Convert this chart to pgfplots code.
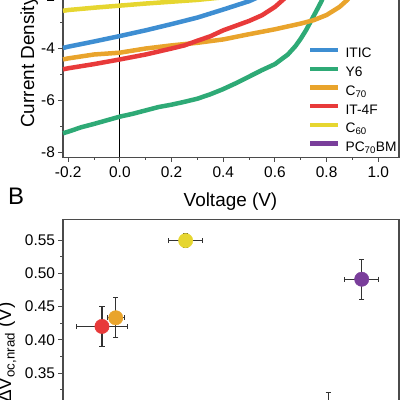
\documentclass[border=0pt]{standalone}
\usepackage{fontspec}
\setmainfont{Liberation Sans}
\usepackage{pgfplots}
\pgfplotsset{compat=1.18}
\definecolor{cITIC}{RGB}{62,142,210}
\definecolor{cY6}{RGB}{46,170,118}
\definecolor{cC70}{RGB}{233,164,44}
\definecolor{cIT}{RGB}{232,58,58}
\definecolor{cC60}{RGB}{230,214,48}
\definecolor{cPC}{RGB}{122,62,155}
\definecolor{axgray}{RGB}{75,75,75}
\definecolor{ebar}{RGB}{50,50,50}
\newcommand{\tickfont}{\fontsize{15.5}{18}\selectfont}
\newcommand{\labfont}{\fontsize{19}{22}\selectfont}
\pgfplotsset{
  myaxis/.style={
    scale only axis,
    axis line style={axgray, line width=1.1bp},
    tick style={axgray, line width=0.9bp},
    tick align=outside,
    major tick length=4.5bp,
    minor tick length=2.5bp,
    tick label style={font=\tickfont},
  },
  curve/.style={line width=4.5bp, line join=round},
  eb/.style={only marks, mark=*, mark size=7.2bp,
    error bars/x dir=both, error bars/x explicit,
    error bars/y dir=both, error bars/y explicit,
    error bars/error bar style={ebar, line width=1.1bp},
    error bars/error mark options={ebar, line width=1.1bp, mark size=2.6bp, rotate=90}},
}
\begin{document}
\begin{tikzpicture}
\path[use as bounding box] (0bp,0bp) rectangle (400bp,400bp);
\clip (0bp,0bp) rectangle (400bp,400bp);
% ---------- Panel A ----------
\begin{axis}[myaxis,
  at={(63bp,242.8bp)}, anchor=south west,
  width=336bp, height=213.2bp,
  xmin=-0.22, xmax=1.08, ymin=-8.2, ymax=0,
  xtick={-0.2,0,0.2,0.4,0.6,0.8,1.0},
  xticklabels={-0.2,0.0,0.2,0.4,0.6,0.8,1.0},
  xticklabel style={yshift=-2bp},
  ytick={-8,-6,-4,-2},
  yticklabels={-8,-6,-4,-2},
  minor x tick num=1, minor y tick num=1,
  xtick pos=bottom, ytick pos=left,
  clip=false,
  legend style={draw=none, fill=none, inner sep=0pt,
    at={(0.729,0.514)}, anchor=north west,
    font=\fontsize{13.8}{16}\selectfont,
    nodes={inner sep=0pt, text height=9.9bp, text depth=4bp},
    row sep=4.6bp, column sep=5bp},
  legend cell align=left,
  legend image code/.code={\draw[#1, line width=4.5bp] (0bp,4.9bp) -- (28bp,4.9bp);},
]
\draw[black, line width=0.8bp] (axis cs:0,-8.2) -- (axis cs:0,0);
\addplot[curve, cITIC] coordinates {
(-0.22,-4.00) (-0.2,-3.95) (-0.1,-3.75) (0.0,-3.54) (0.1,-3.32) (0.2,-3.08)
(0.3,-2.83) (0.4,-2.52) (0.45,-2.36) (0.5,-2.20) (0.55,-1.98) (0.6,-1.70)};
\addlegendentry{ITIC}
\addplot[curve, cY6] coordinates {
(-0.22,-7.28) (-0.2,-7.22) (-0.15,-7.05) (-0.1,-6.92) (-0.05,-6.78) (0.0,-6.64)
(0.05,-6.53) (0.1,-6.40) (0.15,-6.27) (0.2,-6.18) (0.25,-6.07) (0.3,-5.95)
(0.35,-5.78) (0.4,-5.58) (0.45,-5.35) (0.5,-5.10) (0.55,-4.85) (0.6,-4.62)
(0.65,-4.25) (0.68,-3.92) (0.70,-3.64) (0.72,-3.32) (0.74,-2.95) (0.76,-2.58)
(0.78,-2.20) (0.80,-1.70) (0.82,-1.10)};
\addlegendentry{Y6}
\addplot[curve, cC70] coordinates {
(-0.22,-4.44) (-0.2,-4.40) (-0.1,-4.25) (0.0,-4.18) (0.1,-4.02) (0.2,-3.90)
(0.3,-3.80) (0.4,-3.67) (0.5,-3.47) (0.6,-3.28) (0.7,-3.06) (0.75,-2.93)
(0.8,-2.73) (0.85,-2.42) (0.88,-2.15) (0.9,-1.90)};
\addlegendentry{C\textsubscript{70}}
\addplot[curve, cIT] coordinates {
(-0.22,-4.82) (-0.2,-4.78) (-0.1,-4.62) (0.0,-4.44) (0.1,-4.25) (0.2,-4.02)
(0.25,-3.90) (0.3,-3.72) (0.35,-3.55) (0.4,-3.32) (0.45,-3.14) (0.5,-2.96)
(0.55,-2.74) (0.6,-2.42) (0.65,-1.98) (0.7,-1.40)};
\addlegendentry{IT-4F}
\addplot[curve, cC60] coordinates {
(-0.22,-2.57) (-0.2,-2.54) (-0.1,-2.45) (0.0,-2.37) (0.1,-2.29) (0.2,-2.22)
(0.3,-2.15) (0.4,-2.05) (0.5,-1.90)};
\addlegendentry{C\textsubscript{60}}
\addlegendimage{curve, cPC}
\addlegendentry{PC\textsubscript{70}BM}
\end{axis}
% ---------- Panel B ----------
\begin{axis}[myaxis,
  at={(63bp,-39.5bp)}, anchor=south west,
  width=336bp, height=220bp,
  xmin=0, xmax=1, ymin=0.25, ymax=0.5808,
  xtick=\empty,
  ytick={0.30,0.35,0.40,0.45,0.50,0.55},
  yticklabels={0.30,0.35,0.40,0.45,0.50,0.55},
  minor y tick num=1,
  ytick pos=left,
  clip=false,
]
\addplot[eb, cITIC, mark options={fill=cITIC, draw=cITIC}] coordinates {(0.789,0.29) +- (0.05,0.03)};
\addplot[eb, cIT, mark options={fill=cIT, draw=cIT}] coordinates {(0.116,0.42) +- (0.0753,0.03)};
\addplot[eb, cC70, mark options={fill=cC70, draw=cC70}] coordinates {(0.157,0.433) +- (0.025,0.03)};
\addplot[eb, cC60, mark options={fill=cC60, draw=cC60}] coordinates {(0.365,0.549) +- (0.0506,0.01)};
\addplot[eb, cPC, mark options={fill=cPC, draw=cPC}] coordinates {(0.889,0.491) +- (0.0506,0.03)};
\end{axis}
% ---------- labels ----------
\node[rotate=90, anchor=base west, inner sep=0pt, font=\labfont] at (34bp,272bp) {Current Density (mA/cm\textsuperscript{2})};
\node[anchor=base, inner sep=0pt, font=\labfont] at (230.5bp,193bp) {Voltage (V)};
\node[anchor=base west, inner sep=0pt, font=\fontsize{24}{28}\selectfont] at (8bp,195bp) {B};
\node[rotate=90, anchor=base east, inner sep=0pt, font=\labfont] at (11bp,98bp) {ΔV\textsubscript{oc,nrad} (V)};
\end{tikzpicture}
\end{document}
